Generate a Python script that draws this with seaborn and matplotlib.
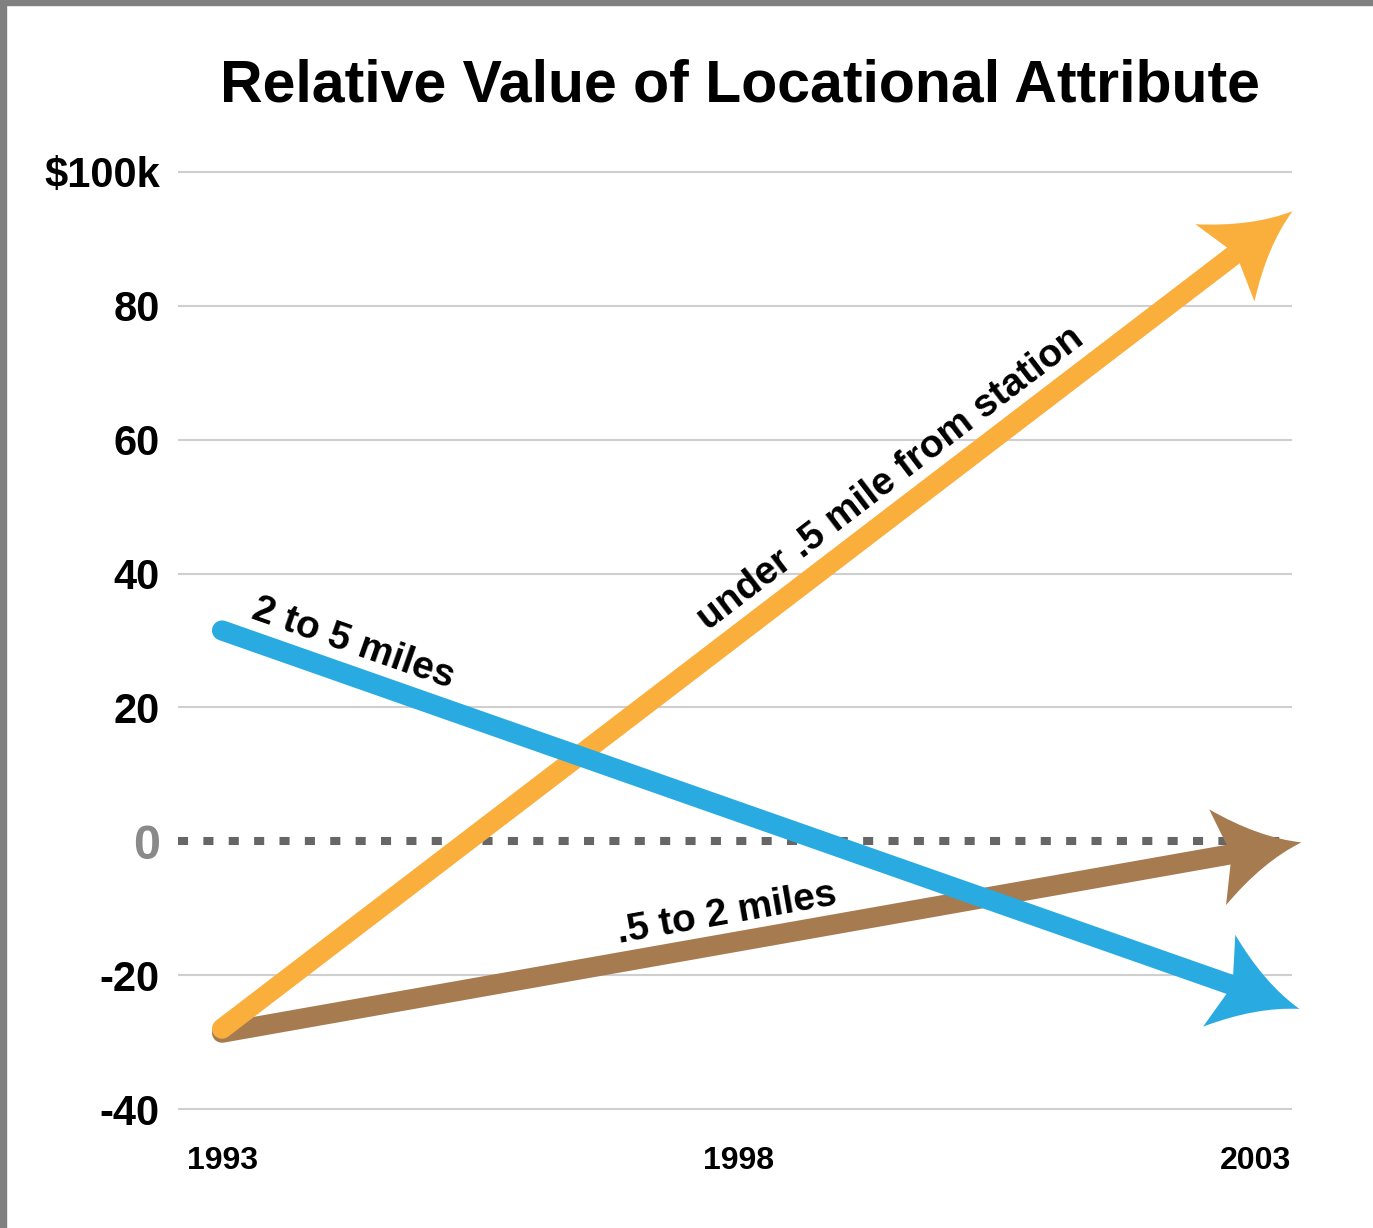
import numpy as np
import pandas as pd
import matplotlib
matplotlib.use("Agg")
import matplotlib.pyplot as plt
import seaborn as sns
from matplotlib.path import Path
from matplotlib.markers import MarkerStyle
from matplotlib.transforms import Affine2D
from matplotlib.patches import Rectangle

# Values ($k, relative)
years = [1993, 2003]
under_half_mile = [-28.0, 90.0]
half_to_two_miles = [-28.6, -1.3]
two_to_five_miles = [31.5, -22.7]
series_names = ["under .5 mile from station", ".5 to 2 miles", "2 to 5 miles"]
ytick_values = [-40, -20, 0, 20, 40, 60, 80, 100]
ytick_labels = ["-40", "-20", "0", "20", "40", "60", "80", "$100k"]
xtick_values = [1993, 1998, 2003]
xtick_labels = ["1993", "1998", "2003"]

colors = {
    "under .5 mile from station": "#FAAF3C",
    ".5 to 2 miles": "#A67B50",
    "2 to 5 miles": "#29ABE2",
}

df = pd.DataFrame({
    "year": years * 3,
    "value": under_half_mile + half_to_two_miles + two_to_five_miles,
    "series": [n for n in series_names for _ in years],
})

sns.set_theme(style="white")
plt.rcParams["font.family"] = ["Liberation Sans", "DejaVu Sans"]
plt.rcParams["font.weight"] = "bold"
plt.rcParams["text.color"] = "black"
plt.rcParams["xtick.color"] = "black"
plt.rcParams["ytick.color"] = "black"

W, H = 1373, 1228
fig = plt.figure(figsize=(W / 100, H / 100), dpi=100)
top_px, bot_px = 158.6, 1122.4
ax = fig.add_axes([178 / W, 1 - bot_px / H, (1292 - 178) / W, (bot_px - top_px) / H])

# lines
draw_order = [".5 to 2 miles", "under .5 mile from station", "2 to 5 miles"]
sns.lineplot(data=df, x="year", y="value", hue="series", hue_order=draw_order,
             palette=colors, linewidth=14.5, legend=False, ax=ax,
             solid_capstyle="round", zorder=3)

ax.set_xlim(1992.574, 2003.358)
ax.set_ylim(-42, 102)
ax.set_xlabel("")
ax.set_ylabel("")

# grid
ax.set_yticks(ytick_values)
ax.set_yticklabels(ytick_labels)
ax.set_xticks(xtick_values)
ax.set_xticklabels(xtick_labels)
ax.grid(axis="y", color="#cfcfcf", linewidth=1.5)
ax.grid(axis="x", visible=False)
ax.set_axisbelow(True)
zero_line = ax.yaxis.get_gridlines()[ytick_values.index(0)]
zero_line.set_color("#666666")
zero_line.set_linewidth(5.8)
zero_line.set_dashes([1.25, 1.9])
zero_line.set_dash_capstyle("butt")

ax.tick_params(axis="y", length=0, pad=13, labelsize=30, labelcolor="black")
ax.tick_params(axis="x", length=0, pad=17, labelsize=23, labelcolor="black")
for lab in ax.get_yticklabels() + ax.get_xticklabels():
    lab.set_fontweight("bold")
zero_lab = ax.get_yticklabels()[ytick_values.index(0)]
zero_lab.set_color("#8a8a8a")
zero_lab.set_fontsize(35)
sns.despine(ax=ax, left=True, bottom=True)

# arrow heads
head_verts = [(46, 0), (5, 12), (-38, 48), (-24, 0), (-38, -48), (5, -12), (46, 0), (46, 0)]
head_codes = [Path.MOVETO, Path.CURVE3, Path.CURVE3, Path.LINETO, Path.LINETO,
              Path.CURVE3, Path.CURVE3, Path.CLOSEPOLY]
head_path = Path(head_verts, head_codes)

series_vals = {
    "under .5 mile from station": under_half_mile,
    ".5 to 2 miles": half_to_two_miles,
    "2 to 5 miles": two_to_five_miles,
}

def angle_of(vals):
    p = ax.transData.transform(np.column_stack([years, vals]))
    d = p[-1] - p[0]
    return np.degrees(np.arctan2(d[1], d[0]))

for name in draw_order:
    vals = series_vals[name]
    ang = angle_of(vals)
    m = MarkerStyle(head_path, transform=Affine2D().rotate_deg(ang))
    ax.plot([years[-1]], [vals[-1]], marker=m, markersize=70, color=colors[name],
            markeredgewidth=0, linestyle="none", clip_on=False, zorder=4)

# labels along lines
label_pos = {
    "2 to 5 miles": (1994.27, 29.6),
    "under .5 mile from station": (1999.47, 54.2),
    ".5 to 2 miles": (1997.89, -10.9),
}
for name, (lx, ly) in label_pos.items():
    ax.text(lx, ly, name, fontsize=28, fontweight="bold", color="black",
            rotation=angle_of(series_vals[name]), rotation_mode="anchor",
            ha="center", va="center", zorder=6)

fig.text(740 / W, 1 - 86 / H, "Relative Value of Locational Attribute",
         fontsize=42.5, fontweight="bold", color="black", ha="center", va="center")

# frame edges of the original graphic
fig.add_artist(Rectangle((0, 1 - 5 / H), 1, 5 / H, transform=fig.transFigure,
                         color="#808080", zorder=10))
fig.add_artist(Rectangle((0, 0), 6 / W, 1, transform=fig.transFigure,
                         color="#808080", zorder=10))

fig.savefig("out.png", dpi=100)
